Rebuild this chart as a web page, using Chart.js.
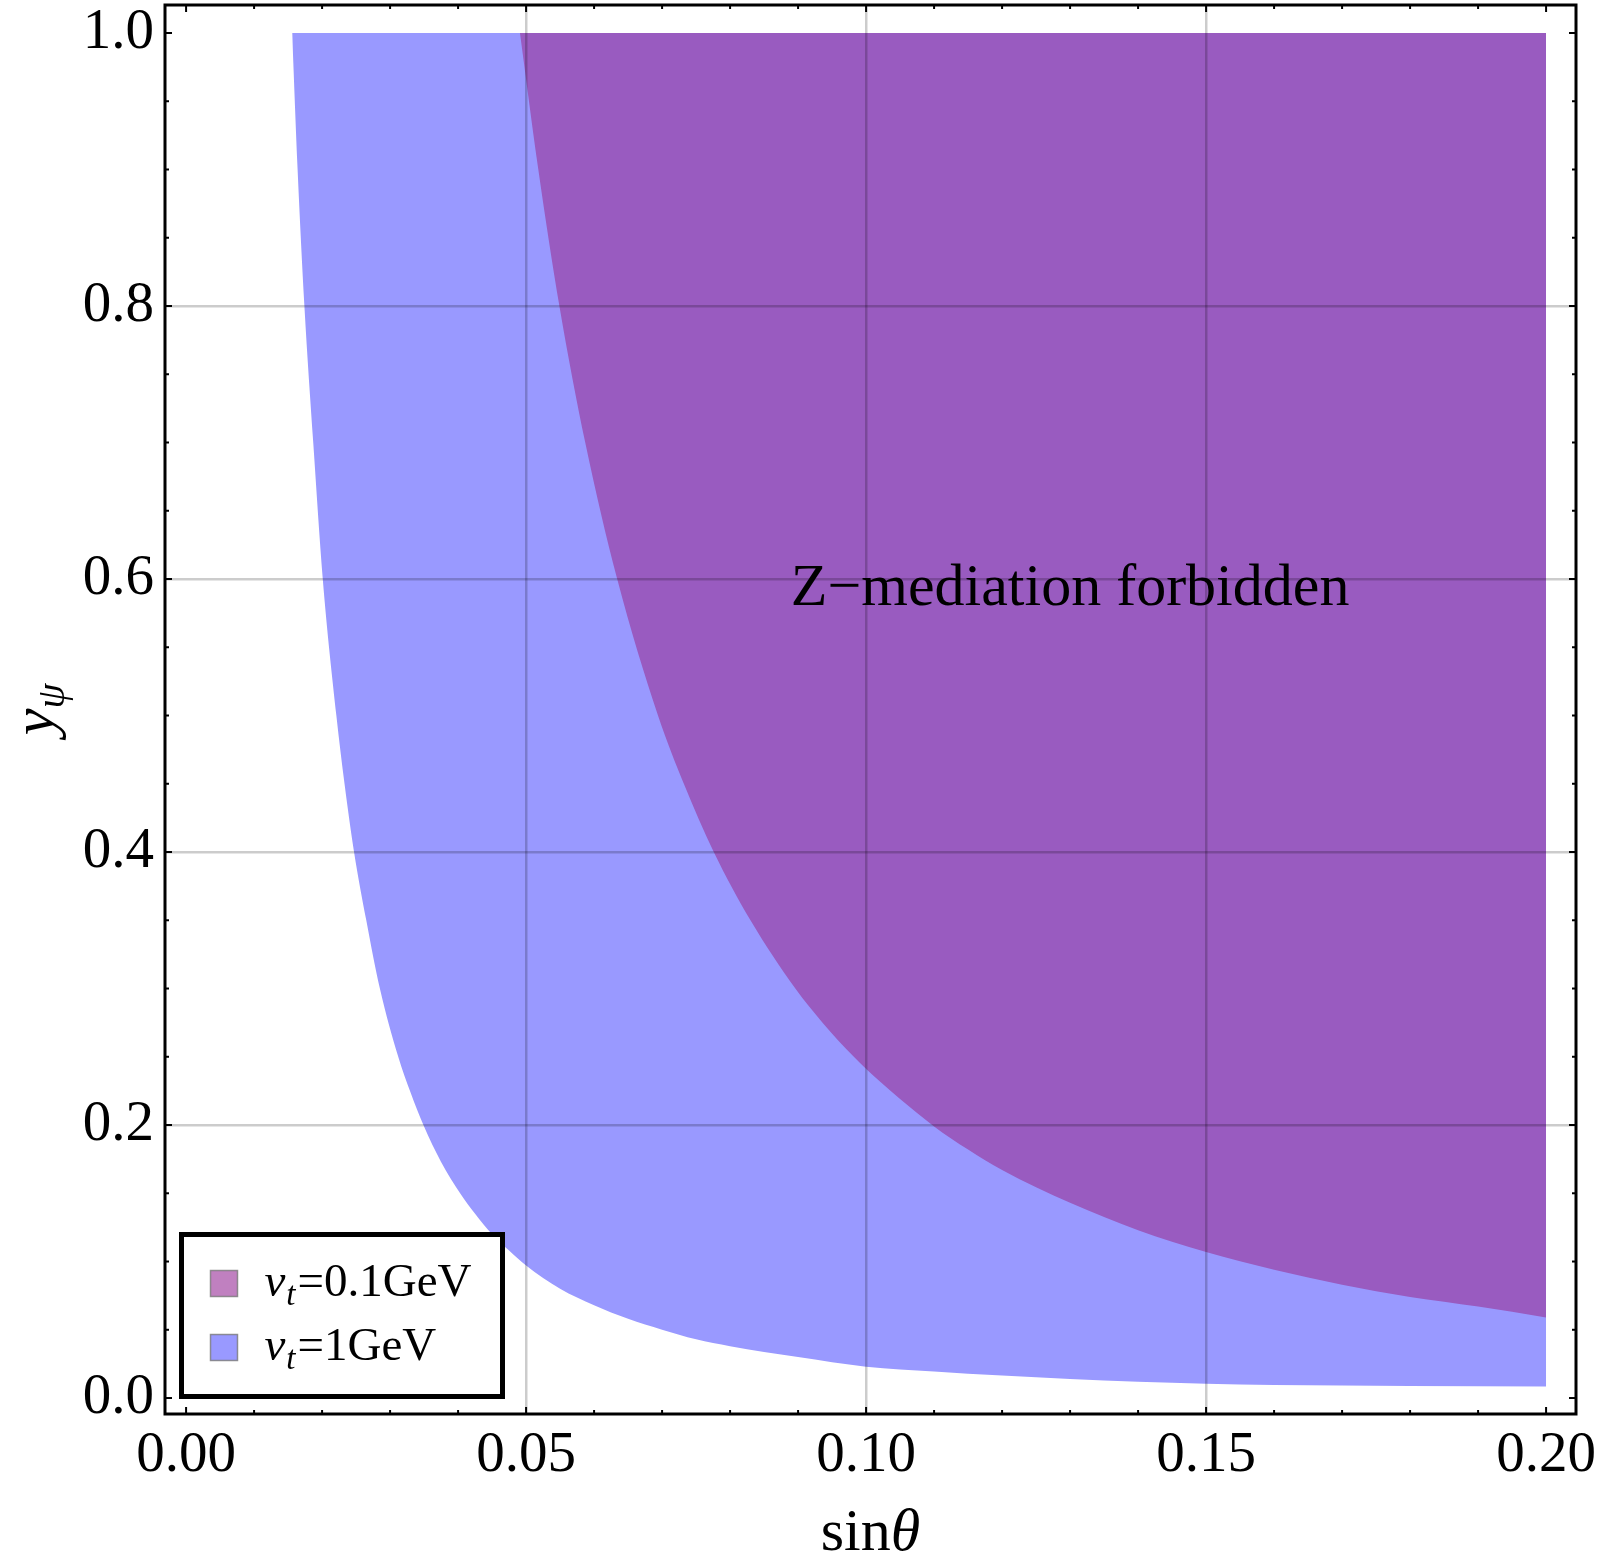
<!DOCTYPE html>
<html>
<head>
<meta charset="utf-8">
<script src="https://cdn.jsdelivr.net/npm/chart.js@4.4.0/dist/chart.umd.min.js"></script>
<style>
html, body { margin: 0; padding: 0; background: #fff; }
</style>
</head>
<body>
<canvas id="myChart" width="1600" height="1565"></canvas>
<script>
// boundary of the v_t = 0.1 GeV region
const purpleX = [0.0491, 0.0518, 0.0549, 0.0587, 0.0634, 0.0694, 0.0732, 0.0776, 0.0830, 0.0896, 0.0936, 0.0982, 0.102, 0.105, 0.110, 0.115, 0.120, 0.130, 0.140, 0.150, 0.160, 0.170, 0.180, 0.190, 0.200]
const purpleY = [1.0, 0.9, 0.8, 0.7, 0.6, 0.5, 0.45, 0.4, 0.35, 0.3, 0.275, 0.25, 0.232, 0.219, 0.199, 0.182, 0.167, 0.143, 0.123, 0.107, 0.094, 0.083, 0.074, 0.067, 0.059]

// boundary of the v_t = 1 GeV region
const blueX = [0.0156, 0.0164, 0.0174, 0.0187, 0.0201, 0.0221, 0.0233, 0.0247, 0.0265, 0.0285, 0.0312, 0.0330, 0.0349, 0.0375, 0.0403, 0.0425, 0.045, 0.0475, 0.050, 0.055, 0.060, 0.065, 0.070, 0.075, 0.080, 0.090, 0.100, 0.110, 0.120, 0.130, 0.140, 0.150, 0.160, 0.180, 0.200]
const blueY = [1.0, 0.9, 0.8, 0.7, 0.6, 0.5, 0.45, 0.4, 0.35, 0.3, 0.25, 0.224, 0.2, 0.173, 0.15, 0.135, 0.120, 0.108, 0.097, 0.080, 0.068, 0.058, 0.050, 0.043, 0.038, 0.030, 0.023, 0.0195, 0.0165, 0.014, 0.012, 0.0105, 0.0095, 0.0088, 0.0085]

const vtValues = ['0.1GeV', '1GeV']
const regionTop = 1.0

const xTickVals = [0, 0.05, 0.10, 0.15, 0.20]
const xTickLabels = ['0.00', '0.05', '0.10', '0.15', '0.20']
const yTickVals = [0, 0.2, 0.4, 0.6, 0.8, 1.0]
const yTickLabels = ['0.0', '0.2', '0.4', '0.6', '0.8', '1.0']
const xMinorStep = 0.01
const yMinorStep = 0.05

const noteText = 'Z\u2212mediation forbidden'
const notePos = { x: 0.130, y: 0.581 }

const SERIF = "'Liberation Serif', 'DejaVu Serif', serif"

function pts(xs, ys) {
    return xs.map((v, i) => ({ x: v, y: ys[i] }))
}

function findMajor(vals, v) {
    return vals.findIndex(t => Math.abs(t - v) < 1e-9)
}

function tickList(lo, hi, step) {
    const out = []
    const n = Math.round((hi - lo) / step)
    for (let k = 0; k <= n; k++) out.push({ value: +(lo + k * step).toFixed(6) })
    return out
}

const decor = {
    id: 'decor',
    afterDraw(chart) {
        const { ctx, chartArea: a, scales: { x, y } } = chart
        ctx.save()

        // inward ticks on all four sides
        ctx.strokeStyle = '#000'
        ctx.lineWidth = 2
        const seg = (x1, y1, x2, y2) => { ctx.beginPath(); ctx.moveTo(x1, y1); ctx.lineTo(x2, y2); ctx.stroke() }
        x.ticks.forEach(t => {
            const px = x.getPixelForValue(t.value)
            const len = findMajor(xTickVals, t.value) >= 0 ? 7 : 4
            seg(px, a.bottom, px, a.bottom - len)
            seg(px, a.top, px, a.top + len)
        })
        y.ticks.forEach(t => {
            const py = y.getPixelForValue(t.value)
            const len = findMajor(yTickVals, t.value) >= 0 ? 7 : 4
            seg(a.left, py, a.left + len, py)
            seg(a.right, py, a.right - len, py)
        })

        // frame
        ctx.lineWidth = 3
        ctx.strokeRect(a.left, a.top, a.right - a.left, a.bottom - a.top)

        // note inside the plot
        ctx.fillStyle = '#000'
        ctx.font = '60px ' + SERIF
        ctx.textAlign = 'center'
        ctx.textBaseline = 'alphabetic'
        ctx.fillText(noteText, x.getPixelForValue(notePos.x), y.getPixelForValue(notePos.y))

        // legend box
        const bx = a.left + 16.5, by = a.bottom - 17.5 - 162, bw = 321, bh = 162
        ctx.fillStyle = '#fff'
        ctx.fillRect(bx, by, bw, bh)
        ctx.lineWidth = 5
        ctx.strokeStyle = '#000'
        ctx.strokeRect(bx, by, bw, bh)
        const swatch = ['rgb(192,128,192)', 'rgb(153,153,255)']
        chart.data.datasets.forEach((ds, i) => {
            const cy = by + 49 + i * 64
            ctx.fillStyle = swatch[i]
            ctx.fillRect(bx + 29, cy - 13, 27, 26)
            ctx.lineWidth = 1.5
            ctx.strokeStyle = 'rgba(120,120,120,0.8)'
            ctx.strokeRect(bx + 29, cy - 13, 27, 26)
            ctx.fillStyle = '#000'
            ctx.textAlign = 'left'
            let tx = bx + 83
            const base = cy + 12
            ctx.font = 'italic 47px ' + SERIF
            ctx.fillText('v', tx, base)
            tx += ctx.measureText('v').width + 1
            ctx.font = 'italic 33px ' + SERIF
            ctx.fillText('t', tx, base + 9)
            tx += ctx.measureText('t').width + 2
            ctx.font = '47px ' + SERIF
            ctx.fillText('=' + vtValues[i], tx, base)
        })

        // x title: sin theta
        ctx.fillStyle = '#000'
        ctx.textAlign = 'left'
        ctx.font = '60px ' + SERIF
        const w1 = ctx.measureText('sin').width
        ctx.font = 'italic 60px ' + SERIF
        const w2 = ctx.measureText('\u03b8').width
        const cx = (a.left + a.right) / 2
        ctx.font = '60px ' + SERIF
        ctx.fillText('sin', cx - (w1 + w2) / 2, 1550)
        ctx.font = 'italic 60px ' + SERIF
        ctx.fillText('\u03b8', cx - (w1 + w2) / 2 + w1, 1550)

        // y title: y_psi
        ctx.save()
        ctx.translate(53, (a.top + a.bottom) / 2)
        ctx.rotate(-Math.PI / 2)
        ctx.font = 'italic 60px ' + SERIF
        const wy = ctx.measureText('y').width
        ctx.font = 'italic 40px ' + SERIF
        const wp = ctx.measureText('\u03c8').width
        const sx = -(wy + wp) / 2
        ctx.font = 'italic 60px ' + SERIF
        ctx.fillText('y', sx, 0)
        ctx.font = 'italic 40px ' + SERIF
        ctx.fillText('\u03c8', sx + wy, 11)
        ctx.restore()

        ctx.restore()
    }
}

const gridColor = (vals, lo, hi) => (c) => {
    const v = c.tick ? c.tick.value : null
    if (v === null) return 'rgba(0,0,0,0)'
    return findMajor(vals, v) >= 0 && v > lo + 1e-9 && v < hi - 1e-9 ? 'rgba(0,0,0,0.2)' : 'rgba(0,0,0,0)'
}

const ctx = document.getElementById('myChart').getContext('2d')
const myChart = new Chart(ctx, {
    type: 'line',
    data: {
        datasets: [{
            label: 'v_t=' + vtValues[0],
            data: pts(purpleX, purpleY),
            backgroundColor: 'rgb(153,91,192)',
            borderWidth: 0,
            pointRadius: 0,
            cubicInterpolationMode: 'monotone',
            fill: { value: regionTop }
        }, {
            label: 'v_t=' + vtValues[1],
            data: pts(blueX, blueY),
            backgroundColor: 'rgb(153,153,255)',
            borderWidth: 0,
            pointRadius: 0,
            cubicInterpolationMode: 'monotone',
            fill: { value: regionTop }
        }]
    },
    plugins: [decor],
    options: {
        responsive: false,
        animation: false,
        devicePixelRatio: 1,
        layout: { padding: { top: 5, right: 24, left: 0, bottom: 0 } },
        plugins: { legend: { display: false }, tooltip: { enabled: false } },
        scales: {
            x: {
                type: 'linear',
                min: -0.0031,
                max: 0.2044,
                afterBuildTicks: (s) => { s.ticks = tickList(0, 0.2, xMinorStep) },
                afterFit: (s) => { s.height = 151; s.paddingLeft = 0; s.paddingRight = 0 },
                border: { display: false },
                grid: { z: 1, drawTicks: false, lineWidth: 2.5, color: gridColor(xTickVals, 0, 0.2) },
                ticks: {
                    autoSkip: false,
                    maxRotation: 0,
                    padding: 8,
                    color: '#000',
                    font: { family: SERIF, size: 57 },
                    callback: (v) => { const i = findMajor(xTickVals, v); return i >= 0 ? xTickLabels[i] : '' }
                }
            },
            y: {
                type: 'linear',
                min: -0.0117,
                max: 1.0205,
                afterBuildTicks: (s) => { s.ticks = tickList(0, 1, yMinorStep) },
                afterFit: (s) => { s.width = 165; s.paddingTop = 0; s.paddingBottom = 0 },
                border: { display: false },
                grid: { z: 1, drawTicks: false, lineWidth: 2.5, color: gridColor(yTickVals, 0, 1) },
                ticks: {
                    autoSkip: false,
                    padding: 11,
                    color: '#000',
                    font: { family: SERIF, size: 57 },
                    callback: (v) => { const i = findMajor(yTickVals, v); return i >= 0 ? yTickLabels[i] : '' }
                }
            }
        }
    }
})
</script>
</body>
</html>
